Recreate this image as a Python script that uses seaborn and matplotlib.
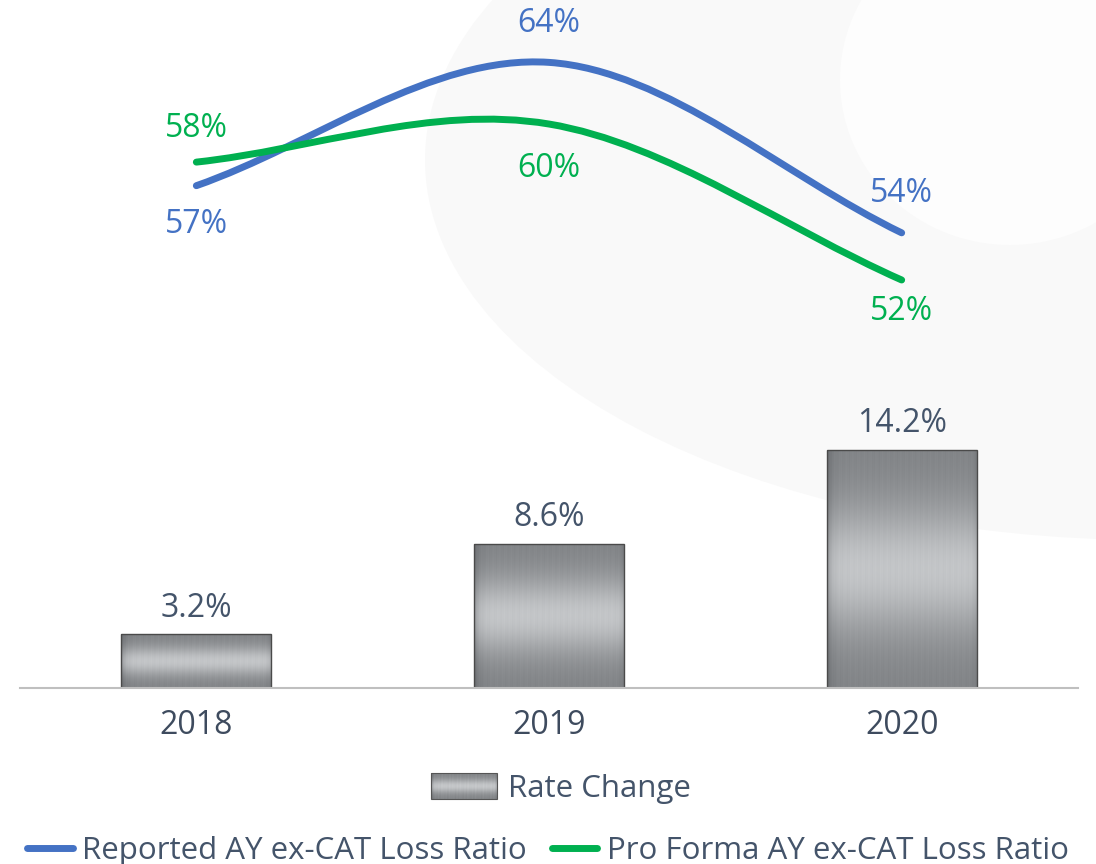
import numpy as np
import pandas as pd
import matplotlib
matplotlib.use("Agg")
import matplotlib.pyplot as plt
import seaborn as sns
from matplotlib.path import Path
from matplotlib.patches import PathPatch, Ellipse, Rectangle
from matplotlib.colors import LinearSegmentedColormap
from matplotlib.legend_handler import HandlerBase
from matplotlib.image import BboxImage
from matplotlib.transforms import Bbox, TransformedBbox
from matplotlib.lines import Line2D

# 数据
years = ["2018", "2019", "2020"]
rate_change = [3.2, 8.6, 14.2]
reported = [56.9, 63.7, 54.3]
pro_forma = [58.2, 60.3, 51.7]

BLUE = "#4472C4"
GREEN = "#00B050"
SLATE = "#44546A"

sns.set_theme(style="white")
plt.rcParams["font.family"] = ["Open Sans", "DejaVu Sans"]

metal = LinearSegmentedColormap.from_list("metal", ["#2c2f33", "#e4e6e8"])


def metal_texture(ny, nx):
    """拉丝金属纹理"""
    yy = np.linspace(0, 1, ny)[:, None]
    xx = np.linspace(0, 1, nx)[None, :]
    band = 0.46 + 0.36 * np.exp(-((yy - 0.5) / 0.27) ** 2)
    streak = (0.012 * np.sin(xx * 411.0) + 0.01 * np.sin(xx * 763.0 + 1.3)
              + 0.008 * np.sin(xx * 157.0 + yy * 3.0))
    edge = 1 - 0.3 * np.exp(-xx / 0.03) - 0.12 * np.exp(-(1 - xx) / 0.02)
    return np.clip((band + streak) * edge, 0, 1)


def smooth_path(xs, ys):
    """Excel 风格的平滑曲线 (三次贝塞尔)"""
    pts = np.column_stack([xs, ys]).astype(float)
    n = len(pts)
    tang = np.zeros_like(pts)
    for i in range(n):
        a = pts[max(i - 1, 0)]
        b = pts[min(i + 1, n - 1)]
        tang[i] = (b - a) / 2 if 0 < i < n - 1 else (b - a)
    verts = [pts[0]]
    codes = [Path.MOVETO]
    for i in range(n - 1):
        verts += [pts[i] + tang[i] / 3, pts[i + 1] - tang[i + 1] / 3, pts[i + 1]]
        codes += [Path.CURVE4] * 3
    return Path(verts, codes)


class HandlerMetal(HandlerBase):
    def create_artists(self, legend, orig_handle, xdescent, ydescent,
                       width, height, fontsize, trans):
        bb = Bbox.from_bounds(-xdescent, -ydescent, width, height)
        img = BboxImage(TransformedBbox(bb, trans), cmap=metal,
                        norm=plt.Normalize(0, 1), interpolation="bilinear")
        img.set_data(metal_texture(40, 140))
        frame = Rectangle((-xdescent, -ydescent), width, height, facecolor="none",
                          edgecolor="#555555", lw=0.8, transform=trans)
        return [img, frame]


fig = plt.figure(figsize=(10.96, 8.64), dpi=100)
fig.patch.set_facecolor("white")

# 背景淡色装饰
bg = fig.add_axes([0, 0, 1, 1], zorder=-5)
bg.set_xlim(0, 1096)
bg.set_ylim(864, 0)
bg.axis("off")
bg.add_patch(Ellipse((1150, 160), 1450, 760, facecolor="#F9F9F9", edgecolor="none"))
bg.add_patch(Ellipse((1010, 80), 340, 330, facecolor="#FDFDFD", edgecolor="none"))

ax = fig.add_axes([20 / 1096, 176 / 864, 1058 / 1096, 688 / 864])
ax.set_facecolor("none")

df = pd.DataFrame({"year": years, "rate": rate_change})
sns.barplot(data=df, x="year", y="rate", color="#8a8a8a", width=0.425,
            edgecolor="#4a4a4a", linewidth=1.0, ax=ax)

tex = metal_texture(120, 300)
for p in ax.patches:
    x0, y0 = p.get_x(), p.get_y()
    w, h = p.get_width(), p.get_height()
    im = ax.imshow(tex, extent=[x0, x0 + w, y0, y0 + h], aspect="auto",
                   cmap=metal, vmin=0, vmax=1, zorder=p.get_zorder() + 0.1,
                   interpolation="bilinear")
    im.set_clip_path(p)
    p.set_facecolor("none")
    p.set_zorder(p.get_zorder() + 0.2)

for i, v in enumerate(rate_change):
    ax.annotate(f"{v}%", (i, v), xytext=(0, 19), textcoords="offset points",
                ha="center", va="center", fontsize=23, color=SLATE)

ax.set_xlim(-0.5, 2.5)
ax.set_ylim(0, 688 / 16.75)
ax.set_xlabel("")
ax.set_ylabel("")
ax.set_yticks([])
for s in ["top", "left", "right"]:
    ax.spines[s].set_visible(False)
ax.spines["bottom"].set_color("#BFBFBF")
ax.spines["bottom"].set_linewidth(1.5)
ax.tick_params(axis="x", length=0, pad=15)
for t in ax.get_xticklabels():
    t.set_fontsize(23)
    t.set_color("#3E4B5E")

# 折线 (副坐标轴)
ax2 = ax.twinx()
ax2.set_ylim(29.2, 67.14)
ax2.set_yticks([])
for s in ax2.spines.values():
    s.set_visible(False)
xs = np.arange(len(years))
for vals, col in [(reported, BLUE), (pro_forma, GREEN)]:
    ax2.add_patch(PathPatch(smooth_path(xs, vals), facecolor="none", edgecolor=col,
                            lw=5, capstyle="round", joinstyle="round", zorder=5))

rep_off = [-28, 28, 28]
pf_off = [24, -32, -23]
for i in range(len(years)):
    ax2.annotate(f"{reported[i]:.0f}%", (i, reported[i]), xytext=(0, rep_off[i]),
                 textcoords="offset points", ha="center", va="center",
                 fontsize=23, color=BLUE)
    ax2.annotate(f"{pro_forma[i]:.0f}%", (i, pro_forma[i]), xytext=(0, pf_off[i]),
                 textcoords="offset points", ha="center", va="center",
                 fontsize=23, color=GREEN)

# 图例
bar_handle = Rectangle((0, 0), 1, 1)
fig.legend([bar_handle], ["Rate Change"], loc="center", bbox_to_anchor=(0.512, 0.087),
           frameon=False, fontsize=22.5, handlelength=2.1, handleheight=0.9,
           handletextpad=0.35, labelcolor=SLATE, handler_map={Rectangle: HandlerMetal()})
line_handles = [Line2D([], [], color=BLUE, lw=5, solid_capstyle="round"),
                Line2D([], [], color=GREEN, lw=5, solid_capstyle="round")]
fig.legend(line_handles, ["Reported AY ex-CAT Loss Ratio", "Pro Forma AY ex-CAT Loss Ratio"],
           loc="center", bbox_to_anchor=(0.5, 0.015), ncol=2, frameon=False,
           fontsize=22.5, handlelength=1.45, handletextpad=0.3, columnspacing=0.8,
           labelcolor=SLATE)

fig.savefig("out.png", dpi=100)
